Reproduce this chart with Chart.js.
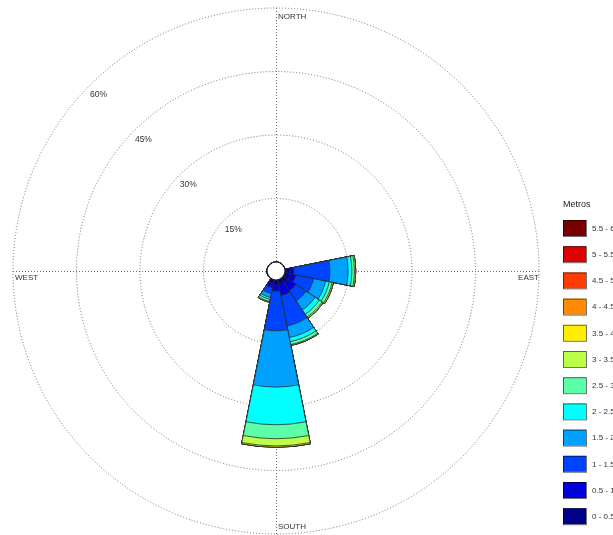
<!DOCTYPE html>
<html>
<head>
<meta charset="utf-8">
<script src="https://cdn.jsdelivr.net/npm/chart.js@4.4.1/dist/chart.umd.min.js"></script>
<style>
html,body{margin:0;padding:0;background:#fff;overflow:hidden}
canvas{display:block}
</style>
</head>
<body>
<canvas id="rose" width="613" height="535"></canvas>
<script>
// 16 compass sectors, clockwise from north
const directions=['N','NNE','NE','ENE','E','ESE','SE','SSE','S','SSW','SW','WSW','W','WNW','NW','NNW'];
const binLabels=['0 - 0.5','0.5 - 1','1 - 1.5','1.5 - 2','2 - 2.5','2.5 - 3','3 - 3.5','3.5 - 4','4 - 4.5','4.5 - 5','5 - 5.5','5.5 - 6'];
const binColors=['#000088','#0000dd','#0044ff','#00a0ff','#00ffff','#5cffa8','#bbff48','#ffee00','#ff8c00','#ff3c00','#dd0000','#7a0000'];
const ringTicks=[15,30,45,60];
const ringLabels=['15%','30%','45%','60%'];
const compassLabels=['NORTH','EAST','SOUTH','WEST'];

// % of records per height bin (Metros), one array per sector that has data
const pctE  =[1.2,0.9,8.5,4.3,0.9,0.6,0.3,0,0,0,0,0];
const pctESE=[1.2,1.4,4.3,2.9,0.9,0.7,0.3,0,0,0,0,0];
const pctSE =[1.2,2.3,2.9,2.6,1.2,0.8,0.3,0,0,0,0,0];
const pctSSE=[1.2,2.6,7.3,2.8,1.0,0.7,0.2,0,0,0,0,0];
const pctS  =[1.2,1.4,9.4,13.3,8.9,3.3,1.7,0.3,0,0,0,0];
const pctSSW=[0.95,0.95,1.4,0.95,0.45,0.5,0.2,0,0,0,0,0];
const noData=[0,0,0,0,0,0,0,0,0,0,0,0];
const bySector={E:pctE,ESE:pctESE,SE:pctSE,SSE:pctSSE,S:pctS,SSW:pctSSW};

const FONT='"Liberation Sans", Arial, sans-serif';

// stacked rose: each dataset holds the running total up to its bin,
// dataset 0 is painted last so the inner bins sit on top
const datasets=binLabels.map((lab,k)=>({
  label:lab,
  data:directions.map(d=>{
    const row=bySector[d]||noData;
    let s=0;
    for(let i=0;i<=k;i++) s+=row[i];
    return +s.toFixed(3);
  }),
  backgroundColor:binColors[k],
  borderColor:'#2b2b2b',
  borderWidth:0.8
}));

const roseDecor={
  id:'roseDecor',
  beforeDatasetsDraw(chart){
    const s=chart.scales.r, ctx=chart.ctx;
    const R=s.drawingArea, cx=s.xCenter, cy=s.yCenter;
    ctx.save();
    ctx.strokeStyle='#6e6e6e';
    ctx.lineWidth=1;
    ctx.setLineDash([1,2]);
    ctx.beginPath();
    ctx.moveTo(cx-R,cy+0.5);ctx.lineTo(cx+R,cy+0.5);
    ctx.moveTo(cx+0.5,cy-R);ctx.lineTo(cx+0.5,cy+R);
    ctx.stroke();
    ctx.restore();
  },
  afterDatasetsDraw(chart){
    const s=chart.scales.r, ctx=chart.ctx;
    const R=s.drawingArea, cx=s.xCenter, cy=s.yCenter;
    ctx.save();
    // centre hole
    ctx.beginPath();
    ctx.arc(cx,cy,s.getDistanceFromCenterForValue(0),0,Math.PI*2);
    ctx.fillStyle='#fff';ctx.fill();
    ctx.strokeStyle='#222';ctx.lineWidth=1.2;ctx.stroke();

    // ring labels on the NW diagonal
    ctx.fillStyle='#333';
    ctx.font='8.5px '+FONT;
    ctx.textAlign='center';ctx.textBaseline='middle';
    ringTicks.forEach((v,i)=>{
      const d=s.getDistanceFromCenterForValue(v)-12;
      ctx.fillText(ringLabels[i],cx-d*Math.SQRT1_2,cy-d*Math.SQRT1_2+1);
    });

    // compass words
    ctx.font='8px '+FONT;
    ctx.textAlign='left';
    ctx.fillText(compassLabels[0],cx+2,cy-R+9);
    ctx.fillText(compassLabels[2],cx+2,cy+R-7);
    ctx.fillText(compassLabels[3],cx-R+2,cy+7);
    ctx.textAlign='right';
    ctx.fillText(compassLabels[1],cx+R,cy+7);

    // legend, top bin first
    const lx=563, ly=220, step=26.2;
    ctx.textAlign='left';
    ctx.font='9px '+FONT;
    ctx.fillStyle='#222';
    ctx.fillText('Metros',lx,205);
    ctx.font='8px '+FONT;
    for(let i=0;i<binLabels.length;i++){
      const k=binLabels.length-1-i, y=ly+i*step;
      ctx.fillStyle=binColors[k];
      ctx.fillRect(lx,y,23,16);
      ctx.strokeStyle='rgba(0,0,0,0.55)';ctx.lineWidth=1;
      ctx.strokeRect(lx+0.5,y+0.5,23,16);
      ctx.fillStyle='#333';
      ctx.fillText(binLabels[k],lx+29,y+8.5);
    }
    ctx.restore();
  }
};

new Chart(document.getElementById('rose'),{
  type:'polarArea',
  data:{labels:directions,datasets},
  options:{
    responsive:false,
    animation:false,
    layout:{padding:{left:13,top:8,right:74,bottom:1}},
    plugins:{legend:{display:false},tooltip:{enabled:false}},
    scales:{r:{
      min:-2.126,max:60,startAngle:-11.25,
      ticks:{display:false},
      afterBuildTicks:sc=>{sc.ticks=ringTicks.map(v=>({value:v}));},
      grid:{color:'#6e6e6e',lineWidth:1,circular:true},
      border:{dash:[1,2]},
      angleLines:{display:false},
      pointLabels:{display:false}
    }}
  },
  plugins:[roseDecor]
});
</script>
</body>
</html>
